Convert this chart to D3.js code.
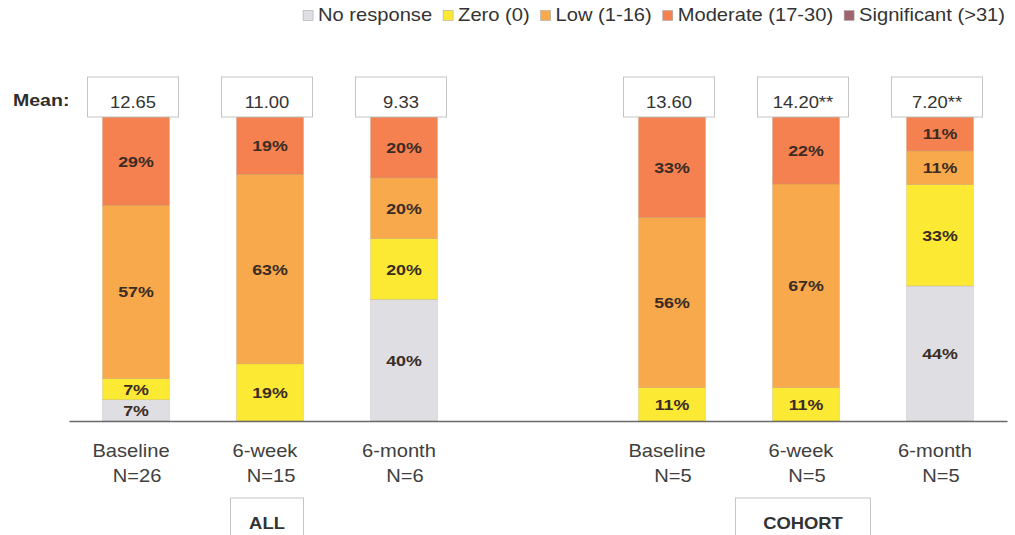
<!DOCTYPE html>
<html>
<head>
<meta charset="utf-8">
<script src="https://cdn.jsdelivr.net/npm/d3@7"></script>
<style>
  body { margin: 0; background: #fff; }
  svg { display: block; }
</style>
</head>
<body>
<svg id="chart" width="1015" height="535"></svg>
<script>
// Groups and time points along the x axis
const groups = ["ALL", "COHORT"];
const timepoints = ["Baseline", "6-week", "6-month"];
const sampleSizes = ["N=26", "N=15", "N=6", "N=5", "N=5", "N=5"];
const meanScores = ["12.65", "11.00", "9.33", "13.60", "14.20**", "7.20**"];

// Score bands (bottom to top of each bar), percent of respondents
const seriesNames = ["No response", "Zero (0)", "Low (1-16)", "Moderate (17-30)", "Significant (>31)"];
const noResponse = [7, 0, 40, 0, 0, 44];
const zeroScore = [7, 19, 20, 11, 11, 33];
const lowScore = [57, 63, 20, 56, 67, 11];
const moderateScore = [29, 19, 20, 33, 22, 11];
const significantScore = [0, 0, 0, 0, 0, 0];

const seriesColors = ["#dedee3", "#fce933", "#f8a94b", "#f4814f", "#a0646f"];
const seriesValues = [noResponse, zeroScore, lowScore, moderateScore, significantScore];

const SX = 1.15; // horizontal text stretch
const FONT = "'Liberation Sans', Arial, sans-serif";

const svg = d3.select("#chart");

// one row per bar
const rows = [];
groups.forEach((g, gi) => timepoints.forEach((t, ti) => {
  const i = gi * timepoints.length + ti;
  const row = { key: g + "|" + t, group: g, time: t, n: sampleSizes[i], mean: meanScores[i] };
  seriesNames.forEach((s, si) => row[s] = seriesValues[si][i]);
  rows.push(row);
}));

const xDomain = [];
groups.forEach((g, gi) => {
  if (gi > 0) xDomain.push("spacer-" + gi);
  timepoints.forEach(t => xDomain.push(g + "|" + t));
});

const x = d3.scaleBand().domain(xDomain).range([69, 1007])
  .paddingInner(0.5).paddingOuter(0.25);
const y = d3.scaleLinear().domain([0, 1]).range([421, 117]);
const color = d3.scaleOrdinal().domain(seriesNames).range(seriesColors);

const stacked = d3.stack().keys(seriesNames).offset(d3.stackOffsetExpand)(rows);

function stext(sel, px, py, str, size, weight, anchor, fill) {
  return sel.append("text")
    .attr("transform", `translate(${px},${py}) scale(${SX},1)`)
    .attr("text-anchor", anchor)
    .attr("font-family", FONT)
    .attr("font-size", size)
    .attr("font-weight", weight)
    .attr("fill", fill)
    .text(str);
}

// stacked bars
const layers = svg.append("g").selectAll("g").data(stacked).join("g")
  .attr("fill", d => color(d.key));
layers.selectAll("rect").data(d => d.map(p => Object.assign(p, { series: d.key }))).join("rect")
  .attr("x", d => x(d.data.key))
  .attr("width", x.bandwidth())
  .attr("y", d => y(d[1]))
  .attr("height", d => y(d[0]) - y(d[1]))
  .attr("stroke", "rgba(120,100,90,0.25)")
  .attr("stroke-width", 0.6);

// percentage labels
const labelLayer = svg.append("g");
stacked.forEach(layer => layer.forEach(p => {
  const v = p.data[layer.key];
  if (!v) return;
  const cx = x(p.data.key) + x.bandwidth() / 2;
  const cy = (y(p[0]) + y(p[1])) / 2 + 5.5;
  stext(labelLayer, cx, cy, v + "%", 15.5, "bold", "middle", "#3b2c24");
}));

// x axis baseline
const axis = svg.append("g").attr("transform", `translate(0,${y(0)})`)
  .call(d3.axisBottom(x).tickValues([]).tickSizeOuter(0));
axis.select(".domain").attr("stroke", "#6a6a6a").attr("stroke-width", 1.5);

// category labels
const catLayer = svg.append("g");
rows.forEach(r => {
  const cx = x(r.key) + x.bandwidth() / 2;
  stext(catLayer, cx - 5, 457, r.time, 17.5, "normal", "middle", "#404040");
  stext(catLayer, cx + 1, 482, r.n, 17.5, "normal", "middle", "#404040");
});

// mean boxes
const meanLayer = svg.append("g");
stext(meanLayer, 13, 106, "Mean:", 17, "bold", "start", "#2e2e2e");
rows.forEach(r => {
  const cx = x(r.key) + x.bandwidth() / 2 - 3;
  meanLayer.append("rect")
    .attr("x", cx - 45.5).attr("y", 77).attr("width", 91).attr("height", 40)
    .attr("fill", "none").attr("stroke", "#c4c4c4").attr("stroke-width", 1);
  stext(meanLayer, cx, 108, r.mean, 16, "normal", "middle", "#333");
});

// group boxes under the middle bar of each group
const groupLayer = svg.append("g");
groups.forEach(g => {
  const mid = g + "|" + timepoints[1];
  const cx = x(mid) + x.bandwidth() / 2 - 3;
  const w = g === "ALL" ? 73 : 135;
  groupLayer.append("rect")
    .attr("x", cx - w / 2).attr("y", 498).attr("width", w).attr("height", 60)
    .attr("fill", "none").attr("stroke", "#c4c4c4").attr("stroke-width", 1);
  stext(groupLayer, cx, 529, g, 16, "bold", "middle", "#333");
});

// legend, right aligned
const legend = svg.append("g");
const items = seriesNames.map(name => {
  const t = stext(legend, 0, 21, name, 17.5, "normal", "start", "#333");
  return { name, t, w: t.node().getComputedTextLength() * SX };
});
const sq = 10, sqGap = 5, itemGap = 11;
const total = d3.sum(items, d => sq + sqGap + d.w) + itemGap * (items.length - 1);
let lx = 1005 - total;
items.forEach(it => {
  legend.append("rect")
    .attr("x", lx).attr("y", 10.5).attr("width", sq).attr("height", sq)
    .attr("fill", color(it.name)).attr("stroke", "#aaa").attr("stroke-width", 0.6);
  it.t.attr("transform", `translate(${lx + sq + sqGap},21) scale(${SX},1)`);
  lx += sq + sqGap + it.w + itemGap;
});
</script>
</body>
</html>
